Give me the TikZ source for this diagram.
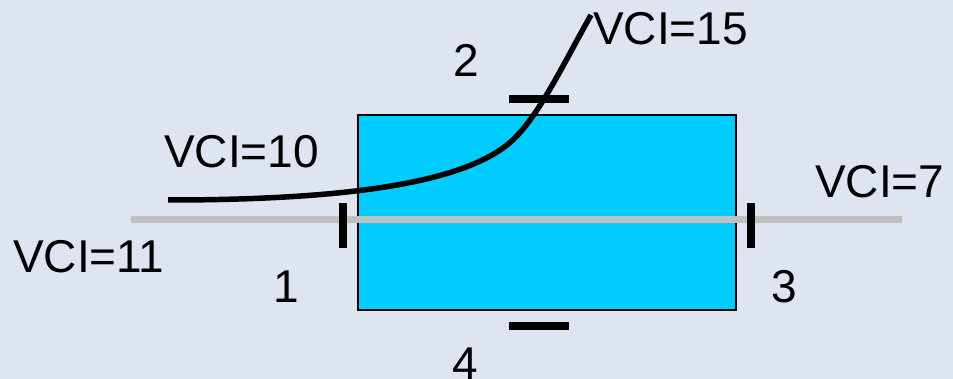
\documentclass[tikz,border=0pt]{standalone}
\usepackage{fontspec}
\setmainfont{Liberation Sans}
\definecolor{bgblue}{HTML}{DEE5F0}
\definecolor{boxcyan}{HTML}{00CCFF}
\definecolor{wiregrey}{HTML}{C0C0C0}
\tikzset{
  lbl/.style={anchor=base west, inner sep=0pt, font=\fontsize{46}{55}\selectfont},
  port/.style={line width=8pt, black},
}
\begin{document}
\begin{tikzpicture}[x=1pt, y=-1pt]
    % 1. Background
    \fill[bgblue] (0, 0) rectangle (953, 379);
    \useasboundingbox (0, 0) rectangle (953, 379);

    % 2. Main points
    \coordinate (P1) at (343, 219);
    \coordinate (P2) at (539, 99);
    \coordinate (P3) at (751, 219);
    \coordinate (P4) at (539, 326);

    % 3. Cyan box
    \draw[line width=1.5pt, fill=boxcyan] (358, 115) rectangle (736, 310);

    % 4. Grey straight route
    \draw[line width=7pt, wiregrey] (131, 219.5) -- (902, 219.5);

    % 5. Black curved route
    \draw[line width=5.5pt, black]
        (168, 200) .. controls (370, 200) and (465, 178) .. (507, 145)
        .. controls (536, 122) and (560, 70) .. (591, 15);

    % 6. Ports
    \draw[port] ([yshift=-29]P1) -- ([yshift=16]P1);
    \draw[port] ([yshift=-29]P3) -- ([yshift=16]P3);
    \draw[port] ([xshift=-30]P2) -- ([xshift=30]P2);
    \draw[port] ([xshift=-30]P4) -- ([xshift=30]P4);

    % 7. Labels
    \node[lbl] (n1) at (273, 303) {1};
    \node[lbl] (n2) at (453, 77) {2};
    \node[lbl] (n3) at (771, 303) {3};
    \node[lbl] (n4) at (452, 379) {4};
    \node[lbl] (v15) at (593, 45) {VCI=15};
    \node[lbl] (v10) at (164, 168) {VCI=10};
    \node[lbl] (v7) at (815, 198) {VCI=7};
    \node[lbl] (v11) at (13, 273) {VCI=11};
\end{tikzpicture}
\end{document}
